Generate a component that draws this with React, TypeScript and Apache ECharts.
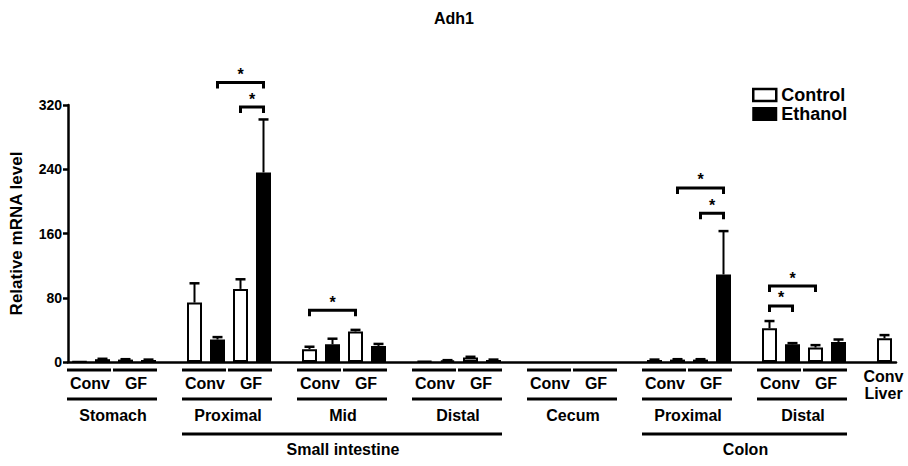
import React, { useEffect, useRef } from "react";
import * as echarts from "echarts";

// ---------- data ----------
const groupNames = ["Stomach", "Proximal", "Mid", "Distal", "Cecum", "Proximal", "Distal", "Liver"];
const pairNames = ["Conv", "GF"];
const organNames = ["Small intestine", "Colon"];
const organGroupSpans = [
  [1, 3],
  [5, 6],
];
const liverLabel = "Conv\nLiver";
const legendNames = ["Control", "Ethanol"];
const titleText = "Adh1";
const yAxisName = "Relative mRNA level";
const yMin = 0;
const yMax = 320;
const yInterval = 80;

// values per group (Conv-Control, Conv-Ethanol, GF-Control, GF-Ethanol)
const controlConv = [0.5, 74, 16, 1, null, 2.5, 42, 29.5];
const controlConvErr = [0, 24, 3, 0, null, 0.5, 9, 4];
const ethanolConv = [3.5, 28, 22, 2, null, 3, 22, null];
const ethanolConvErr = [0.5, 3, 7, 0.3, null, 0.5, 1.5, null];
const controlGF = [3, 91, 38, 5.5, null, 3, 18, null];
const controlGFErr = [0.5, 12, 2, 1, null, 0.5, 3, null];
const ethanolGF = [2.5, 236, 20, 2.5, null, 109, 25, null];
const ethanolGFErr = [0.5, 66, 2.5, 0.5, null, 54, 3, null];

// significance brackets: [group, barA, barB, height]
const brackets = [
  [1, 1, 3, 348],
  [1, 2, 3, 317.5],
  [2, 0, 2, 64.5],
  [5, 1, 3, 216.7],
  [5, 2, 3, 185.2],
  [6, 0, 2, 94.6],
  [6, 0, 1, 69.8],
];

// ---------- build ----------
const SLOTS = 5;
const slotCount = (groupNames.length - 1) * SLOTS + 1;
const categories = Array.from({ length: slotCount }, (_, i) => "s" + i);
const valueSets = [controlConv, ethanolConv, controlGF, ethanolGF];
const errSets = [controlConvErr, ethanolConvErr, controlGFErr, ethanolGFErr];

const controlData: any[] = Array(slotCount).fill("-");
const ethanolData: any[] = Array(slotCount).fill("-");
const errData: number[][] = [];
groupNames.forEach((_, g) => {
  valueSets.forEach((arr, k) => {
    const v = arr[g];
    if (v === null || v === undefined) return;
    const slot = g * SLOTS + k;
    if (slot >= slotCount) return;
    if (k % 2 === 0) controlData[slot] = v;
    else ethanolData[slot] = v;
    const e = errSets[k][g];
    if (e) errData.push([slot, v, e]);
  });
});

const bracketData = brackets.map(([g, a, b, h]) => [g * SLOTS + a, h, g * SLOTS + b]);

type LabelItem = { start: number; end: number; row: number; text: string };
const labelItems: LabelItem[] = [];
for (let g = 0; g < groupNames.length - 1; g++) {
  pairNames.forEach((p, i) => {
    labelItems.push({ start: g * SLOTS + 2 * i, end: g * SLOTS + 2 * i + 1, row: 0, text: p });
  });
  labelItems.push({ start: g * SLOTS, end: g * SLOTS + 3, row: 1, text: groupNames[g] });
}
organNames.forEach((o, i) => {
  labelItems.push({
    start: organGroupSpans[i][0] * SLOTS,
    end: organGroupSpans[i][1] * SLOTS + 3,
    row: 2,
    text: o,
  });
});
labelItems.push({ start: slotCount - 1, end: slotCount - 1, row: -1, text: liverLabel });

const FONT = "'Liberation Sans', Arial, Helvetica, sans-serif";
const rowLine = [8, 37, 72];
const rowText = [21.5, 53, 87.5];

const option: any = {
  animation: false,
  backgroundColor: "#fff",
  textStyle: { fontFamily: FONT },
  title: {
    text: titleText,
    left: "center",
    top: 5,
    textStyle: { fontFamily: FONT, fontSize: 16, fontWeight: "bold", color: "#000" },
  },
  legend: {
    orient: "vertical",
    left: 752,
    top: 86,
    padding: 0,
    itemWidth: 23,
    itemHeight: 12,
    itemGap: 1,
    icon: "rect",
    data: [
      { name: legendNames[0], itemStyle: { color: "#fff", borderColor: "#000", borderWidth: 2.5 } },
      { name: legendNames[1], itemStyle: { color: "#000", borderColor: "#000", borderWidth: 2 } },
    ],
    textStyle: { fontFamily: FONT, fontSize: 18, lineHeight: 14, fontWeight: "bold", color: "#000" },
  },
  grid: { left: 68, right: 12, top: 105, bottom: 104, containLabel: false },
  xAxis: {
    type: "category",
    data: categories,
    boundaryGap: true,
    axisLine: { show: true, lineStyle: { color: "#000", width: 2.5 } },
    axisTick: { show: false },
    axisLabel: { show: false },
    splitLine: { show: false },
  },
  yAxis: {
    type: "value",
    min: yMin,
    max: yMax,
    interval: yInterval,
    name: yAxisName,
    nameLocation: "middle",
    nameGap: 43,
    nameTextStyle: { fontFamily: FONT, fontSize: 17, fontWeight: "bold", color: "#000" },
    axisLine: { show: true, lineStyle: { color: "#000", width: 2.5 } },
    axisTick: { show: true, inside: false, length: 5, lineStyle: { color: "#000", width: 2.5 } },
    axisLabel: { margin: 6, fontFamily: FONT, fontSize: 14, fontWeight: "bold", color: "#000" },
    splitLine: { show: false },
  },
  series: [
    {
      name: legendNames[0],
      type: "bar",
      data: controlData,
      barWidth: 15,
      barGap: "-100%",
      itemStyle: { color: "#fff", borderColor: "#000", borderWidth: 2 },
      z: 2,
    },
    {
      name: legendNames[1],
      type: "bar",
      data: ethanolData,
      barWidth: 15,
      barGap: "-100%",
      itemStyle: { color: "#000", borderColor: "#000", borderWidth: 2 },
      z: 2,
    },
    {
      type: "custom",
      name: "err",
      data: errData,
      encode: { x: 0, y: 1 },
      z: 3,
      silent: true,
      renderItem: (params: any, api: any) => {
        const x = api.value(0);
        const v = api.value(1);
        const e = api.value(2);
        const p0 = api.coord([x, v]);
        const p1 = api.coord([x, v + e]);
        return {
          type: "group",
          children: [
            { type: "line", shape: { x1: p0[0], y1: p0[1], x2: p1[0], y2: p1[1] }, style: { stroke: "#000", lineWidth: 2 } },
            { type: "line", shape: { x1: p1[0] - 5, y1: p1[1], x2: p1[0] + 5, y2: p1[1] }, style: { stroke: "#000", lineWidth: 2.5 } },
          ],
        };
      },
    },
    {
      type: "custom",
      name: "sig",
      data: bracketData,
      encode: { x: 0, y: 1 },
      z: 3,
      silent: true,
      clip: false,
      renderItem: (params: any, api: any) => {
        const a = api.coord([api.value(0), api.value(1)]);
        const b = api.coord([api.value(2), api.value(1)]);
        return {
          type: "group",
          children: [
            {
              type: "polyline",
              shape: { points: [[a[0], a[1] + 6], [a[0], a[1]], [b[0], b[1]], [b[0], b[1] + 6]] },
              style: { stroke: "#000", lineWidth: 3, fill: null },
            },
            {
              type: "text",
              style: {
                text: "*",
                x: (a[0] + b[0]) / 2,
                y: a[1] - 8,
                align: "center",
                verticalAlign: "middle",
                font: `bold 16px ${FONT}`,
                fill: "#000",
              },
            },
          ],
        };
      },
    },
    {
      type: "custom",
      name: "labels",
      data: labelItems.map((it) => [it.start, 0]),
      encode: { x: 0, y: 1 },
      z: 3,
      silent: true,
      clip: false,
      renderItem: (params: any, api: any) => {
        const it = labelItems[params.dataIndex];
        const band = api.size([1, 0])[0];
        const x1 = api.coord([it.start, 0])[0] - band / 2;
        const x2 = api.coord([it.end, 0])[0] + band / 2;
        const y0 = api.coord([0, 0])[1];
        const children: any[] = [];
        if (it.row >= 0) {
          children.push({
            type: "line",
            shape: { x1: x1 - 1, y1: y0 + rowLine[it.row], x2: x2 - 3, y2: y0 + rowLine[it.row] },
            style: { stroke: "#000", lineWidth: 3 },
          });
        }
        children.push({
          type: "text",
          style: {
            text: it.text,
            x: (x1 + x2) / 2 - 1,
            y: y0 + (it.row >= 0 ? rowText[it.row] : 23),
            align: "center",
            verticalAlign: "middle",
            font: `bold 16px ${FONT}`,
            lineHeight: 17,
            fill: "#000",
          },
        });
        return { type: "group", children };
      },
    },
  ],
};

export default function App() {
  const ref = useRef<HTMLDivElement>(null);
  useEffect(() => {
    const chart = echarts.init(ref.current!, null, { renderer: "svg" });
    chart.setOption(option);
    return () => chart.dispose();
  }, []);
  return <div ref={ref} style={{ position: "fixed", left: 0, top: 0, width: 908, height: 466 }} />;
}
